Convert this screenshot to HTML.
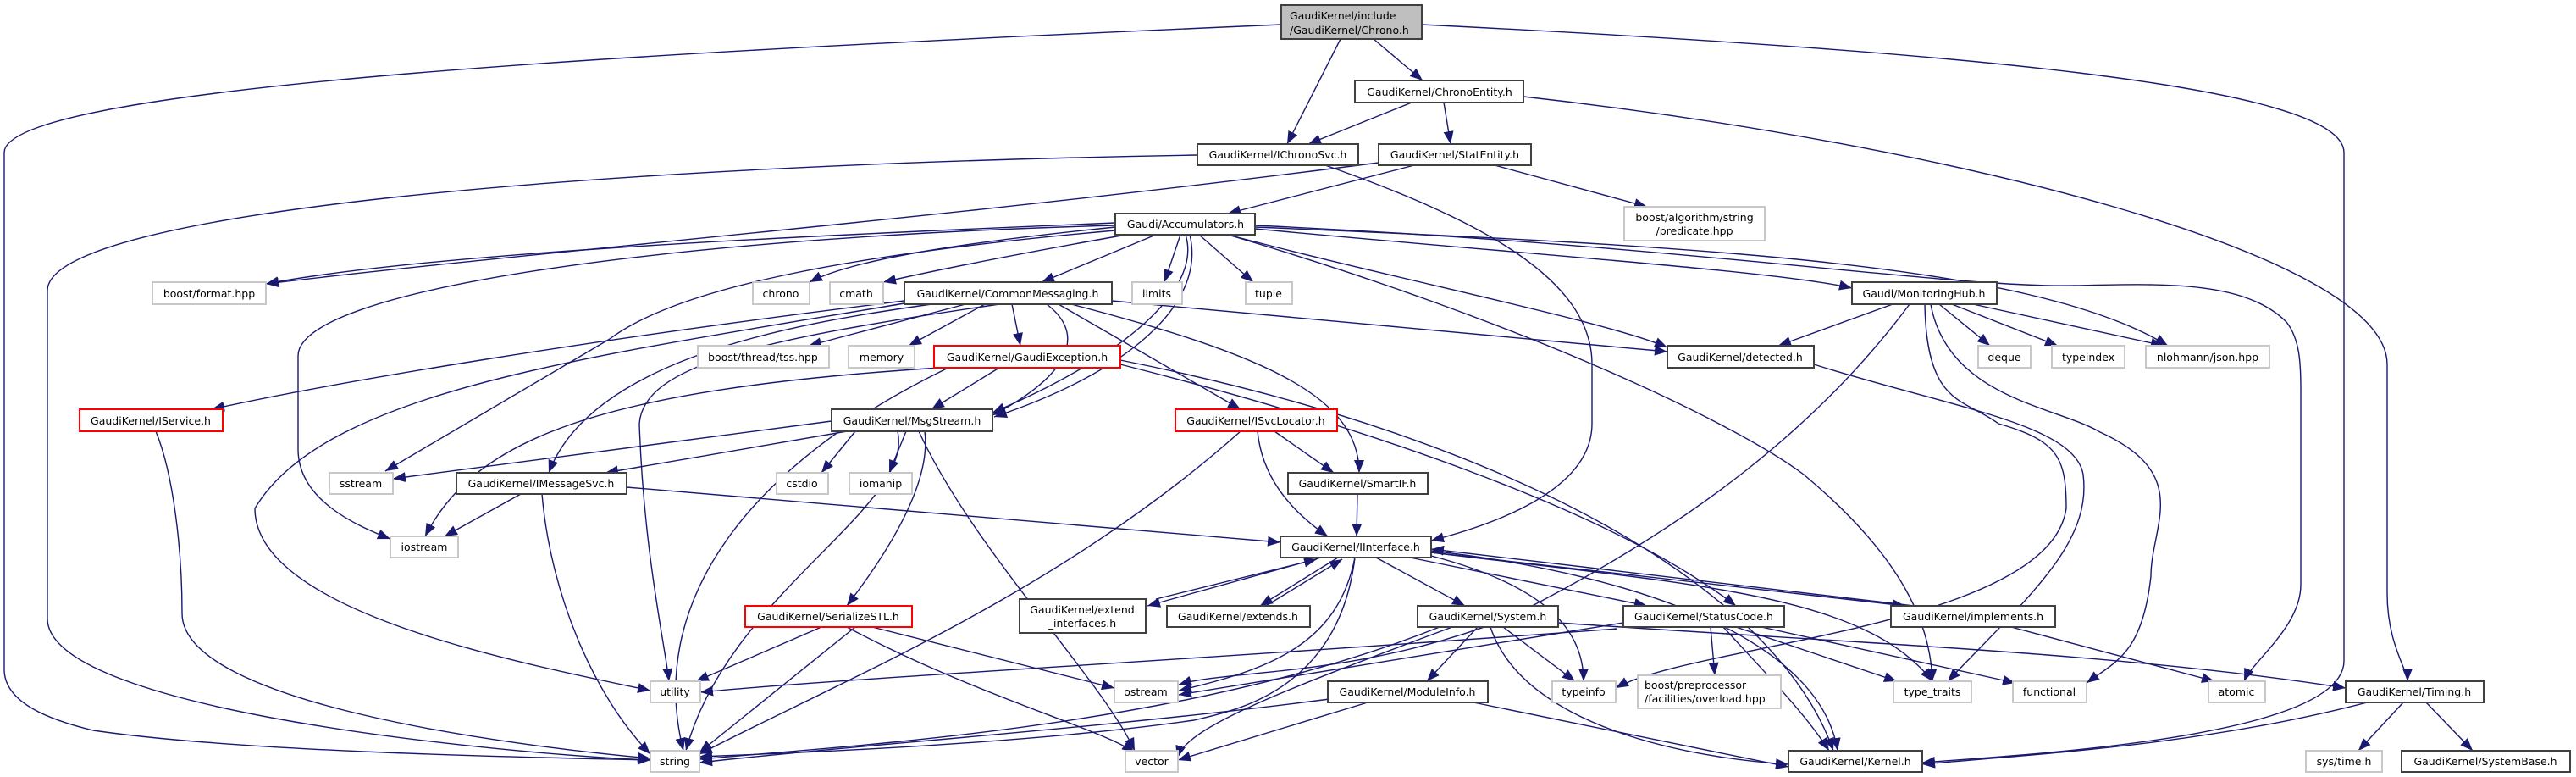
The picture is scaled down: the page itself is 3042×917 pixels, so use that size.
<!DOCTYPE html>
<html><head><meta charset="utf-8"><style>
html,body{margin:0;padding:0;background:#fff;}
svg{display:block;}
text{font-family:"DejaVu Sans","Liberation Sans",sans-serif;font-size:12.5px;fill:#000;}
.b{fill:#fff;stroke:#404040;stroke-width:2;}
.g{fill:#fff;stroke:#c8c8c8;stroke-width:2;}
.r{fill:#fff;stroke:#ff0000;stroke-width:2;}
path.e{fill:none;stroke:#191970;stroke-width:1.4;marker-end:url(#ah);}
</style></head><body>
<svg width="3042" height="917" viewBox="0 0 3042 917" xmlns="http://www.w3.org/2000/svg">
<defs><marker id="ah" markerUnits="userSpaceOnUse" markerWidth="16" markerHeight="12" refX="15" refY="6" orient="auto"><path d="M0,0 L15,6 L0,12 z" fill="#191970"/></marker></defs>

<g>
<path class="e" d="M1513,29 C800,60 5,100 5,180 L5,790 C5,830 60,850 110,862 C300,890 700,895 768,897"/>
<path class="e" d="M1679,29 C2300,60 2768,100 2768,180 L2768,780 C2768,870 2400,890 2270,900"/>
<path class="e" d="M1583,46 L1520,170"/>
<path class="e" d="M1622,46 L1680,95"/>
<path class="e" d="M1667,121 L1545,170"/>
<path class="e" d="M1705,121 L1713,170"/>
<path class="e" d="M1799,114 C2300,170 2819,300 2819,430 L2819,700 C2819,760 2843,790 2843,804"/>
<path class="e" d="M1414,183 C700,195 56,250 56,343 L56,730 C56,840 600,890 768,897"/>
<path class="e" d="M1565,195 C1750,260 1880,330 1880,430 L1880,500 C1880,580 1760,620 1690,638"/>
<path class="e" d="M1628,192 C1100,260 600,300 314,335"/>
<path class="e" d="M1670,195 L1450,252"/>
<path class="e" d="M1765,195 L1945,244"/>
<path class="e" d="M1317,263 C900,280 500,300 314,335"/>
<path class="e" d="M1317,268 C1100,290 1000,310 956,333"/>
<path class="e" d="M1330,277 C1200,300 1100,320 1043,333"/>
<path class="e" d="M1365,277 L1230,333"/>
<path class="e" d="M1394,277 L1375,333"/>
<path class="e" d="M1416,277 L1480,333"/>
<path class="e" d="M1317,272 C1000,300 800,340 720,400 L455,556"/>
<path class="e" d="M1317,266 C800,280 352,340 352,420 L352,530 C352,590 420,620 461,636"/>
<path class="e" d="M1400,277 C1420,340 1330,420 1172,487"/>
<path class="e" d="M1405,277 C1425,360 1330,440 1174,492"/>
<path class="e" d="M1450,277 C1650,330 1900,380 1969,410"/>
<path class="e" d="M1482,270 C1800,300 2100,320 2187,340"/>
<path class="e" d="M1482,268 C2000,290 2400,310 2560,408"/>
<path class="e" d="M1482,266 C2000,290 2300,340 2449,337 C2550,335 2650,330 2700,380 C2716,400 2717,430 2717,460 L2717,690 C2717,740 2660,780 2650,804"/>
<path class="e" d="M1450,277 C1800,380 2050,500 2130,560 C2250,660 2280,740 2282,804"/>
<path class="e" d="M1068,355 C700,400 400,450 250,483"/>
<path class="e" d="M1140,359 L955,408"/>
<path class="e" d="M1163,359 L1073,408"/>
<path class="e" d="M1195,359 L1205,408"/>
<path class="e" d="M1236,359 C1290,400 1250,450 1172,490"/>
<path class="e" d="M1100,359 C950,380 700,420 648,558"/>
<path class="e" d="M1250,359 L1465,483"/>
<path class="e" d="M1265,359 C1500,420 1605,470 1605,558"/>
<path class="e" d="M1313,355 L1969,415"/>
<path class="e" d="M1068,358 C700,420 384,460 301,600 C301,720 600,780 768,815"/>
<path class="e" d="M1180,359 C900,400 760,430 755,500 C760,650 785,760 790,804"/>
<path class="e" d="M1180,434 L1100,483"/>
<path class="e" d="M1110,434 C700,460 560,520 502,633"/>
<path class="e" d="M1120,434 C900,540 760,700 807,886"/>
<path class="e" d="M1323,430 C1600,500 1900,600 2050,715"/>
<path class="e" d="M1323,425 C1800,520 2100,700 2165,886"/>
<path class="e" d="M982,497 L464,565"/>
<path class="e" d="M1000,509 L715,558"/>
<path class="e" d="M1010,509 L970,558"/>
<path class="e" d="M1070,509 L1050,558"/>
<path class="e" d="M1060,509 C1080,600 860,700 810,886"/>
<path class="e" d="M1085,509 C1150,650 1300,800 1340,886"/>
<path class="e" d="M1092,509 C1100,570 1050,650 1000,715"/>
<path class="e" d="M615,583 L525,633"/>
<path class="e" d="M640,583 C650,700 700,820 768,890"/>
<path class="e" d="M740,575 L1512,640"/>
<path class="e" d="M1505,509 L1575,558"/>
<path class="e" d="M1485,509 C1490,560 1520,600 1568,633"/>
<path class="e" d="M1465,509 C1250,700 1000,800 826,890"/>
<path class="e" d="M1603,583 L1602,633"/>
<path class="e" d="M1560,658 L1355,715"/>
<path class="e" d="M1365,707 L1555,660"/>
<path class="e" d="M1580,658 L1488,715"/>
<path class="e" d="M1495,715 L1585,660"/>
<path class="e" d="M1625,658 L1730,715"/>
<path class="e" d="M1665,658 L1945,715"/>
<path class="e" d="M1690,652 L2250,715"/>
<path class="e" d="M2260,715 L1690,648"/>
<path class="e" d="M1690,656 C1820,690 1870,740 1870,804"/>
<path class="e" d="M1690,652 C2000,690 2200,700 2282,804"/>
<path class="e" d="M1690,650 C1950,680 2150,760 2170,886"/>
<path class="e" d="M1600,658 C1580,760 1500,790 1392,815"/>
<path class="e" d="M1600,658 C1580,820 1450,840 1410,850 C1200,880 900,890 826,893"/>
<path class="e" d="M1745,740 L1685,804"/>
<path class="e" d="M1775,740 L1860,804"/>
<path class="e" d="M1700,740 C1400,860 1000,880 826,896"/>
<path class="e" d="M1715,740 C1500,820 1400,860 1390,895"/>
<path class="e" d="M1760,740 C1800,860 2000,895 2112,902"/>
<path class="e" d="M1840,735 C2200,760 2500,770 2770,812"/>
<path class="e" d="M1917,735 L1392,820"/>
<path class="e" d="M1910,742 C1400,780 1000,800 827,817"/>
<path class="e" d="M2020,740 L2025,797"/>
<path class="e" d="M2050,740 L2240,804"/>
<path class="e" d="M2080,740 L2380,806"/>
<path class="e" d="M2035,740 C2090,800 2130,840 2160,886"/>
<path class="e" d="M2375,740 L2615,804"/>
<path class="e" d="M1570,825 C1300,860 1000,880 826,900"/>
<path class="e" d="M1615,829 L1391,897"/>
<path class="e" d="M1740,829 L2112,905"/>
<path class="e" d="M2795,829 C2600,880 2400,890 2270,902"/>
<path class="e" d="M2838,829 L2785,886"/>
<path class="e" d="M2865,829 L2920,886"/>
<path class="e" d="M970,740 L822,804"/>
<path class="e" d="M1030,740 L1316,812"/>
<path class="e" d="M1000,740 C1150,820 1300,860 1340,888"/>
<path class="e" d="M1010,740 L826,888"/>
<path class="e" d="M184,509 C205,560 215,650 215,724 C215,830 600,880 768,895"/>
<path class="e" d="M2235,359 L2100,408"/>
<path class="e" d="M2290,359 L2350,408"/>
<path class="e" d="M2305,359 L2430,408"/>
<path class="e" d="M2330,359 L2555,408"/>
<path class="e" d="M2255,359 C2150,500 2000,620 1780,730 C1600,800 1450,790 1392,808"/>
<path class="e" d="M2273,359 C2275,480 2320,470 2360,500 C2430,520 2440,540 2440,600 C2420,740 2000,760 1908,812"/>
<path class="e" d="M2280,359 C2300,470 2430,480 2480,510 C2590,560 2540,620 2540,680 C2530,770 2500,780 2464,806"/>
<path class="e" d="M2142,430 C2300,480 2450,500 2460,560 C2470,640 2400,700 2300,804"/>
</g>

<g>
<rect x="1513" y="6" width="166" height="40" fill="#bfbfbf" stroke="#404040" stroke-width="2"/>
<text x="1523" y="23">GaudiKernel/include</text><text x="1523" y="40">/GaudiKernel/Chrono.h</text>
<rect class="b" x="1600" y="95" width="199" height="26"/><text x="1700" y="113" text-anchor="middle">GaudiKernel/ChronoEntity.h</text>
<rect class="b" x="1414" y="170" width="190" height="25"/><text x="1509" y="187" text-anchor="middle">GaudiKernel/IChronoSvc.h</text>
<rect class="b" x="1628" y="170" width="180" height="25"/><text x="1718" y="187" text-anchor="middle">GaudiKernel/StatEntity.h</text>
<rect class="g" x="1918" y="244" width="166" height="40"/><text x="2001" y="261" text-anchor="middle">boost/algorithm/string</text><text x="2001" y="277" text-anchor="middle">/predicate.hpp</text>
<rect class="b" x="1317" y="252" width="165" height="25"/><text x="1400" y="269" text-anchor="middle">Gaudi/Accumulators.h</text>
<rect class="g" x="180" y="333" width="134" height="26"/><text x="247" y="351" text-anchor="middle">boost/format.hpp</text>
<rect class="g" x="889" y="333" width="67" height="26"/><text x="922" y="351" text-anchor="middle">chrono</text>
<rect class="g" x="980" y="333" width="63" height="26"/><text x="1011" y="351" text-anchor="middle">cmath</text>
<rect class="b" x="1068" y="333" width="245" height="26"/><text x="1190" y="351" text-anchor="middle">GaudiKernel/CommonMessaging.h</text>
<rect class="g" x="1337" y="333" width="59" height="26"/><text x="1366" y="351" text-anchor="middle">limits</text>
<rect class="g" x="1471" y="333" width="55" height="26"/><text x="1498" y="351" text-anchor="middle">tuple</text>
<rect class="b" x="2187" y="333" width="171" height="26"/><text x="2272" y="351" text-anchor="middle">Gaudi/MonitoringHub.h</text>
<rect class="g" x="824" y="408" width="155" height="26"/><text x="901" y="426" text-anchor="middle">boost/thread/tss.hpp</text>
<rect class="g" x="1002" y="408" width="78" height="26"/><text x="1041" y="426" text-anchor="middle">memory</text>
<rect class="r" x="1103" y="408" width="220" height="26"/><text x="1213" y="426" text-anchor="middle">GaudiKernel/GaudiException.h</text>
<rect class="b" x="1969" y="408" width="173" height="26"/><text x="2055" y="426" text-anchor="middle">GaudiKernel/detected.h</text>
<rect class="g" x="2336" y="408" width="62" height="26"/><text x="2367" y="426" text-anchor="middle">deque</text>
<rect class="g" x="2423" y="408" width="86" height="26"/><text x="2466" y="426" text-anchor="middle">typeindex</text>
<rect class="g" x="2534" y="408" width="146" height="26"/><text x="2607" y="426" text-anchor="middle">nlohmann/json.hpp</text>
<rect class="r" x="94" y="483" width="169" height="26"/><text x="178" y="501" text-anchor="middle">GaudiKernel/IService.h</text>
<rect class="b" x="982" y="483" width="190" height="26"/><text x="1077" y="501" text-anchor="middle">GaudiKernel/MsgStream.h</text>
<rect class="r" x="1388" y="483" width="191" height="26"/><text x="1483" y="501" text-anchor="middle">GaudiKernel/ISvcLocator.h</text>
<rect class="g" x="389" y="558" width="75" height="25"/><text x="426" y="575" text-anchor="middle">sstream</text>
<rect class="b" x="539" y="558" width="201" height="25"/><text x="639" y="575" text-anchor="middle">GaudiKernel/IMessageSvc.h</text>
<rect class="g" x="917" y="558" width="61" height="25"/><text x="947" y="575" text-anchor="middle">cstdio</text>
<rect class="g" x="1003" y="558" width="74" height="25"/><text x="1040" y="575" text-anchor="middle">iomanip</text>
<rect class="b" x="1521" y="558" width="165" height="25"/><text x="1603" y="575" text-anchor="middle">GaudiKernel/SmartIF.h</text>
<rect class="g" x="461" y="633" width="80" height="25"/><text x="501" y="650" text-anchor="middle">iostream</text>
<rect class="b" x="1512" y="633" width="178" height="25"/><text x="1601" y="650" text-anchor="middle">GaudiKernel/IInterface.h</text>
<rect class="b" x="1204" y="707" width="149" height="40"/><text x="1278" y="724" text-anchor="middle">GaudiKernel/extend</text><text x="1278" y="740" text-anchor="middle">_interfaces.h</text>
<rect class="r" x="880" y="715" width="197" height="25"/><text x="978" y="732" text-anchor="middle">GaudiKernel/SerializeSTL.h</text>
<rect class="b" x="1378" y="715" width="169" height="25"/><text x="1462" y="732" text-anchor="middle">GaudiKernel/extends.h</text>
<rect class="b" x="1674" y="715" width="166" height="25"/><text x="1757" y="732" text-anchor="middle">GaudiKernel/System.h</text>
<rect class="b" x="1917" y="715" width="190" height="25"/><text x="2012" y="732" text-anchor="middle">GaudiKernel/StatusCode.h</text>
<rect class="b" x="2233" y="715" width="194" height="25"/><text x="2330" y="732" text-anchor="middle">GaudiKernel/implements.h</text>
<rect class="g" x="768" y="804" width="59" height="25"/><text x="797" y="821" text-anchor="middle">utility</text>
<rect class="g" x="1316" y="804" width="75" height="25"/><text x="1353" y="821" text-anchor="middle">ostream</text>
<rect class="b" x="1568" y="804" width="189" height="25"/><text x="1662" y="821" text-anchor="middle">GaudiKernel/ModuleInfo.h</text>
<rect class="g" x="1833" y="804" width="75" height="25"/><text x="1870" y="821" text-anchor="middle">typeinfo</text>
<rect class="g" x="1934" y="797" width="169" height="39"/><text x="1942" y="813">boost/preprocessor</text><text x="1942" y="829">/facilities/overload.hpp</text>
<rect class="g" x="2236" y="804" width="92" height="25"/><text x="2282" y="821" text-anchor="middle">type_traits</text>
<rect class="g" x="2377" y="804" width="87" height="25"/><text x="2420" y="821" text-anchor="middle">functional</text>
<rect class="g" x="2608" y="804" width="67" height="25"/><text x="2641" y="821" text-anchor="middle">atomic</text>
<rect class="b" x="2770" y="804" width="163" height="25"/><text x="2851" y="821" text-anchor="middle">GaudiKernel/Timing.h</text>
<rect class="g" x="768" y="886" width="58" height="25"/><text x="797" y="903" text-anchor="middle">string</text>
<rect class="g" x="1329" y="886" width="62" height="25"/><text x="1360" y="903" text-anchor="middle">vector</text>
<rect class="b" x="2112" y="886" width="158" height="25"/><text x="2191" y="903" text-anchor="middle">GaudiKernel/Kernel.h</text>
<rect class="g" x="2723" y="886" width="90" height="25"/><text x="2768" y="903" text-anchor="middle">sys/time.h</text>
<rect class="b" x="2836" y="886" width="199" height="25"/><text x="2935" y="903" text-anchor="middle">GaudiKernel/SystemBase.h</text>
</g>
</svg>
</body></html>
